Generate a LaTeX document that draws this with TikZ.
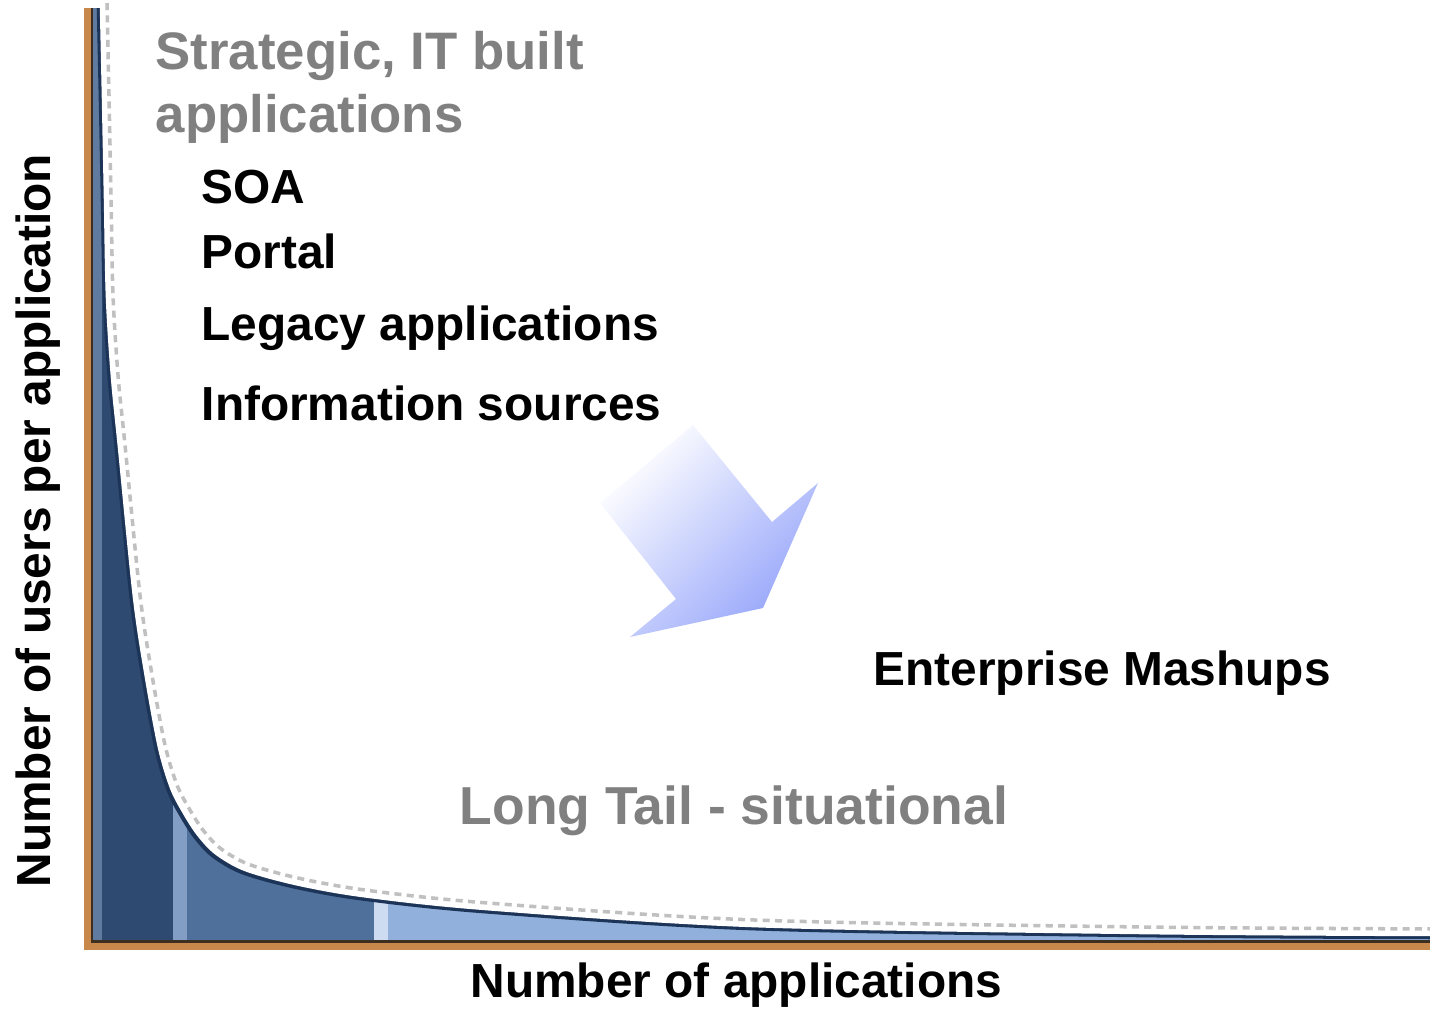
\documentclass[tikz,border=0pt]{standalone}
\usepackage{fontspec}
\setmainfont{Liberation Sans}
\definecolor{tailgrey}{RGB}{128,128,128}
\definecolor{headband}{RGB}{46,74,112}
\definecolor{bodyband}{RGB}{78,112,155}
\definecolor{tailband}{RGB}{145,177,220}
\definecolor{bandlight}{RGB}{172,196,232}
\definecolor{curveedge}{RGB}{28,52,88}
\definecolor{axisorange}{RGB}{200,136,76}
\definecolor{axisdark}{RGB}{62,46,32}
\definecolor{arrowblue}{RGB}{150,165,250}
\tikzset{tailcurve/.style={insert path={plot[smooth, tension=0.5] coordinates {(102,8) (104,100) (106,200) (108,300) (113,380) (120,450) (135,600) (147,680) (160,750) (172,790) (185,815) (198,835) (215,853) (243,869) (293,883) (360,895) (483,908) (750,925) (1140,932) (1440,934)}}}}

\begin{document}
\begin{tikzpicture}[x=0.01cm, y=-0.01cm,
    every node/.style={inner sep=0pt, anchor=base west},
    greytext/.style={font=\fontsize{15}{17.9}\selectfont\bfseries, text=tailgrey},
    itemtext/.style={font=\fontsize{13.6}{16}\selectfont\bfseries}]
  \useasboundingbox (0,0) rectangle (1430,1008);

  % area under the long tail
  \begin{scope}
    \clip [tailcurve] -- (1440,940) -- (93,940) -- (93,8) -- cycle;
    \fill[headband] (93,0) rectangle (177,940);
    \fill[bodyband] (177,0) rectangle (378,940);
    \fill[tailband] (378,0) rectangle (1440,940);
    \draw[headband!60!bandlight, line width=3] (97,0) -- (97,940);
    \draw[bodyband!45!bandlight, line width=4] (180,0) -- (180,940);
    \draw[bandlight!60!white, line width=4] (381,0) -- (381,940);
  \end{scope}
  \draw[curveedge, line width=3] [tailcurve];
  \begin{scope}[shift={(3,-3)}]
    \draw[white, line width=3] [tailcurve];
  \end{scope}
  \begin{scope}[shift={(5,-5)}]
    \draw[tailgrey!50, line width=1, dash pattern=on 2pt off 1.5pt] [tailcurve];
  \end{scope}

  % axes
  \fill[axisorange] (84,8) rectangle (91,950);
  \fill[axisdark] (91,8) rectangle (93,943);
  \fill[axisorange] (84,943) rectangle (1430,950);
  \fill[axisdark] (91,940) rectangle (1430,943);

  % shift arrow
  \shade[top color=white, bottom color=arrowblue, shading angle=45]
    (693,425) -- (772,522) -- (818,483) -- (763,608) -- (630,637) -- (676,599) -- (600,503) -- cycle;

  \node[greytext, anchor=north west, align=left] (strategic) at (155,31) {Strategic, IT built\\applications};
  \node[itemtext] (soa) at (201,203) {SOA};
  \node[itemtext] (portal) at (201,268) {Portal};
  \node[itemtext] (legacy) at (201,340) {Legacy applications};
  \node[itemtext] (sources) at (201,420) {Information sources};
  \node[itemtext] (mashups) at (873,685) {Enterprise Mashups};
  \node[greytext, font=\fontsize{15.2}{17.9}\selectfont\bfseries] (longtail) at (459,824) {Long Tail - situational};

  \node[itemtext] (xlabel) at (470,997) {Number of applications};
  \node[itemtext, rotate=90] (ylabel) at (51,888) {Number of users per application};
\end{tikzpicture}
\end{document}
